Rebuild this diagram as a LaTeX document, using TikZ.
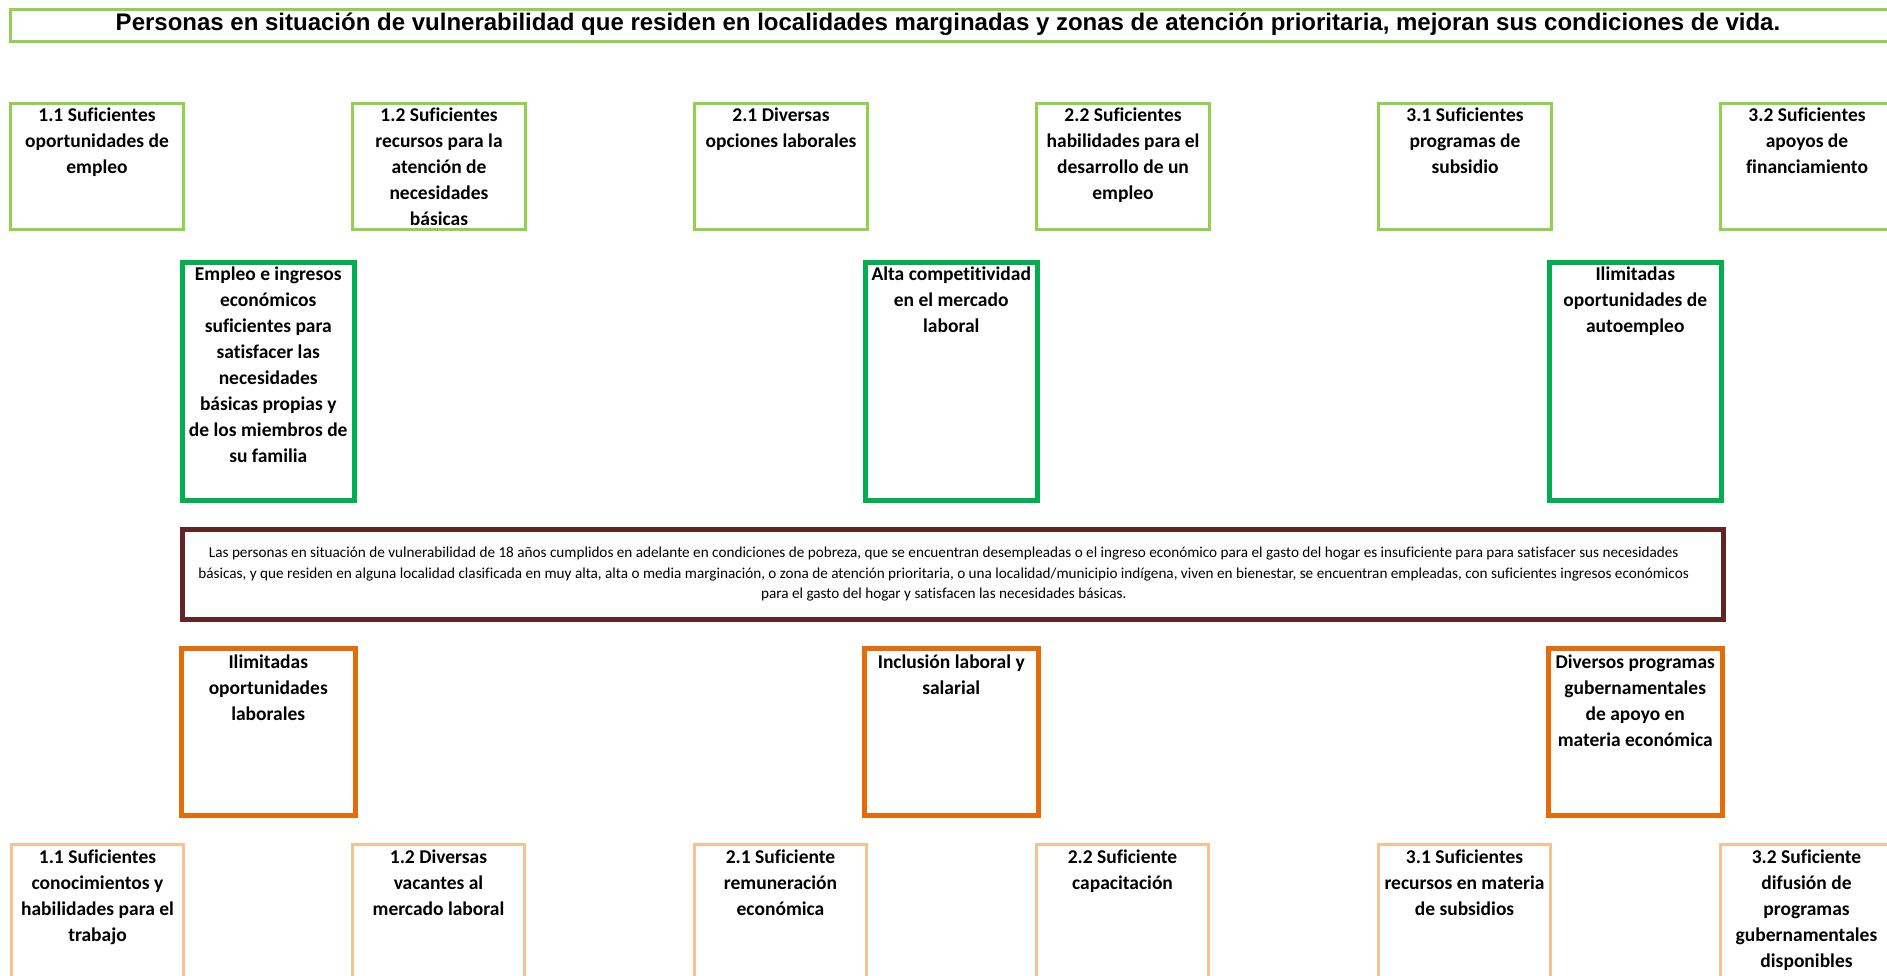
\documentclass[tikz,border=0pt]{standalone}
\usepackage{fontspec}
\setmainfont{Carlito}[Ligatures=CommonOff]
\newfontfamily\titlefont{Liberation Sans}
\definecolor{lgreen}{HTML}{92D050}
\definecolor{dgreen}{HTML}{00B050}
\definecolor{maroon}{HTML}{632523}
\definecolor{orng}{HTML}{E46C0A}
\definecolor{peach}{HTML}{FAC090}
\tikzset{
  lgbox/.style={draw=lgreen, line width=3pt, minimum width=173pt, minimum height=126pt, anchor=north west, inner sep=0pt},
  dgbox/.style={draw=dgreen, line width=4.5pt, minimum width=172pt, minimum height=238pt, anchor=north west, inner sep=0pt},
  obox/.style={draw=orng, line width=4.5pt, minimum width=174pt, minimum height=167pt, anchor=north west, inner sep=0pt},
  pbox/.style={draw=peach, line width=3pt, minimum width=172pt, minimum height=160pt, anchor=north west, inner sep=0pt},
  mbox/.style={draw=maroon, line width=4.5pt, minimum width=1541pt, minimum height=90pt, anchor=north west, inner sep=0pt},
  txt/.style={anchor=north, align=center, inner sep=0pt,
    font=\bfseries\fontsize{19.5}{26}\selectfont},
}
\begin{document}
\begin{tikzpicture}[x=1pt,y=-1pt]
\useasboundingbox (0,0) rectangle (1887,975);
\clip (0,0) rectangle (1887,975);
\fill[white] (0,0) rectangle (1887,975);

% title
\node[draw=lgreen, line width=3pt, minimum width=1890pt, minimum height=32pt, anchor=north west, inner sep=0pt] (title) at (9,8) {};
\node[font=\titlefont\bfseries\fontsize{24}{28}\selectfont, inner sep=0pt, anchor=base] (titletxt) at (948,30) {Personas en situación de vulnerabilidad que residen en localidades marginadas y zonas de atención prioritaria, mejoran sus condiciones de vida.};

% top row
\node[lgbox] (a11) at (9,102) {};
\node[lgbox] (a12) at (351,102) {};
\node[lgbox] (a21) at (693,102) {};
\node[lgbox] (a22) at (1035,102) {};
\node[lgbox] (a31) at (1377,102) {};
\node[lgbox] (a32) at (1719,102) {};
\node[txt] (ta11) at ([yshift=-1.5pt]a11.north) {\strut 1.1 Suficientes\\oportunidades de\\empleo};
\node[txt] (ta12) at ([yshift=-1.5pt]a12.north) {\strut 1.2 Suficientes\\recursos para la\\atención de\\necesidades\\básicas};
\node[txt] (ta21) at ([yshift=-1.5pt]a21.north) {\strut 2.1 Diversas\\opciones laborales};
\node[txt] (ta22) at ([yshift=-1.5pt]a22.north) {\strut 2.2 Suficientes\\habilidades para el\\desarrollo de un\\empleo};
\node[txt] (ta31) at ([yshift=-1.5pt]a31.north) {\strut 3.1 Suficientes\\programas de\\subsidio};
\node[txt] (ta32) at ([yshift=-1.5pt]a32.north) {\strut 3.2 Suficientes\\apoyos de\\financiamiento};

% middle green row
\node[dgbox] (g1) at (180,260) {};
\node[dgbox] (g2) at (863,260) {};
\node[dgbox] (g3) at (1547,260) {};
\node[txt] (tg1) at ([yshift=-2.5pt]g1.north) {\strut Empleo e ingresos\\económicos\\suficientes para\\satisfacer las\\necesidades\\básicas propias y\\de los miembros de\\su familia};
\node[txt] (tg2) at ([yshift=-2.5pt]g2.north) {\strut Alta competitividad\\en el mercado\\laboral};
\node[txt] (tg3) at ([yshift=-2.5pt]g3.north) {\strut Ilimitadas\\oportunidades de\\autoempleo};

% central statement
\node[mbox] (m) at (180,527) {};
\node[align=center, inner sep=0pt, font=\fontsize{15.2}{20.5}\selectfont] (tm) at ([xshift=-9pt]m.center) {Las personas en situación de vulnerabilidad de 18 años cumplidos en adelante en condiciones de pobreza, que se encuentran desempleadas o el ingreso económico para el gasto del hogar es insuficiente para para satisfacer sus necesidades\\básicas, y que residen en alguna localidad clasificada en muy alta, alta o media marginación, o zona de atención prioritaria, o una localidad/municipio indígena, viven en bienestar, se encuentran empleadas, con suficientes ingresos económicos\\para el gasto del hogar y satisfacen las necesidades básicas.};

% orange row
\node[obox] (o1) at (179,646) {};
\node[obox] (o2) at (862,646) {};
\node[obox] (o3) at (1546,646) {};
\node[txt] (to1) at ([yshift=-4pt]o1.north) {\strut Ilimitadas\\oportunidades\\laborales};
\node[txt] (to2) at ([yshift=-4pt]o2.north) {\strut Inclusión laboral y\\salarial};
\node[txt] (to3) at ([yshift=-4pt]o3.north) {\strut Diversos programas\\gubernamentales\\de apoyo en\\materia económica};

% bottom row
\node[pbox] (b11) at (10,843) {};
\node[pbox] (b12) at (351,843) {};
\node[pbox] (b21) at (693,843) {};
\node[pbox] (b22) at (1035,843) {};
\node[pbox] (b31) at (1377,843) {};
\node[pbox] (b32) at (1719,843) {};
\node[txt] (tb11) at ([yshift=-2pt]b11.north) {\strut 1.1 Suficientes\\conocimientos y\\habilidades para el\\trabajo};
\node[txt] (tb12) at ([yshift=-2pt]b12.north) {\strut 1.2 Diversas\\vacantes al\\mercado laboral};
\node[txt] (tb21) at ([yshift=-2pt]b21.north) {\strut 2.1 Suficiente\\remuneración\\económica};
\node[txt] (tb22) at ([yshift=-2pt]b22.north) {\strut 2.2 Suficiente\\capacitación};
\node[txt] (tb31) at ([yshift=-2pt]b31.north) {\strut 3.1 Suficientes\\recursos en materia\\de subsidios};
\node[txt] (tb32) at ([yshift=-2pt]b32.north) {\strut 3.2 Suficiente\\difusión de\\programas\\gubernamentales\\disponibles};
\end{tikzpicture}
\end{document}
